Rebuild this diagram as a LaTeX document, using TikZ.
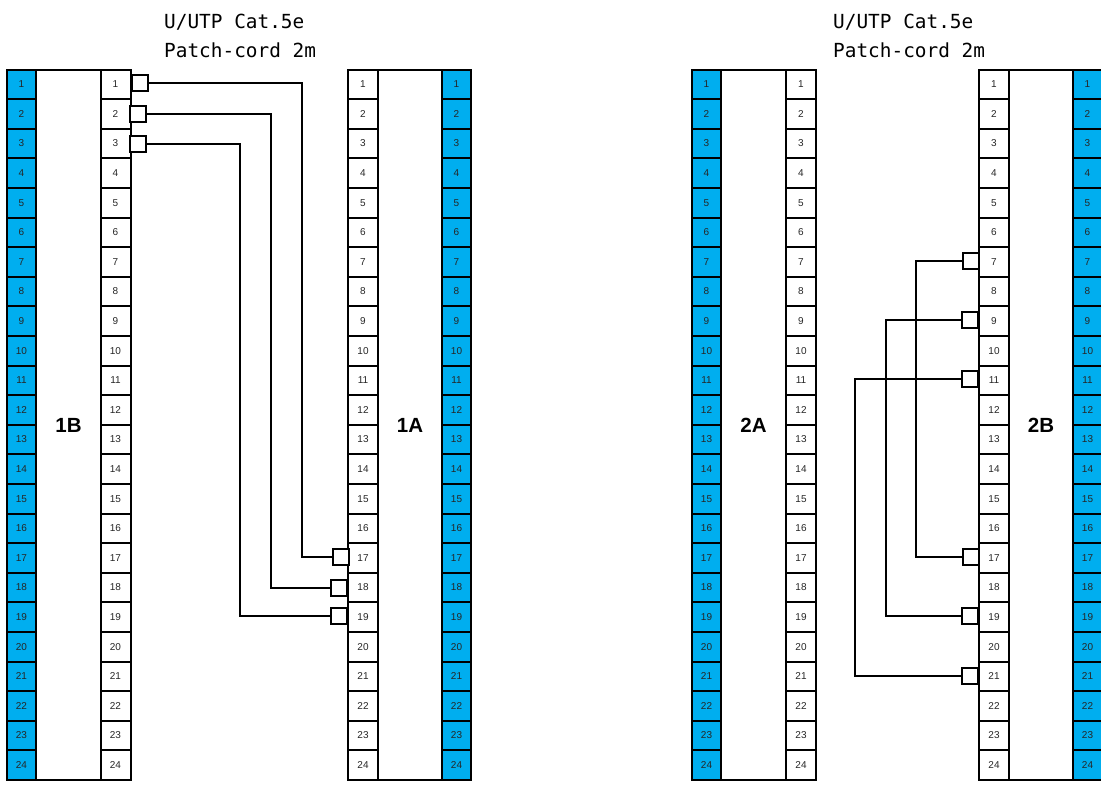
\documentclass[tikz,border=0pt]{standalone}
\usepackage{fontspec}
\setmainfont{Liberation Sans}
\newfontfamily\titlefont{DejaVu Sans Mono}
\definecolor{portblue}{HTML}{00AEEF}
\tikzset{
  cellbase/.style={draw=black,line width=2pt,inner sep=0pt,font=\fontsize{10}{11}\selectfont,text=black!85},
  bluecell/.style={cellbase,fill=portblue,minimum width=29pt},
  whitecell/.style={cellbase,fill=white,minimum width=30pt},
  panelbody/.style={draw=black,line width=2pt,fill=white,minimum height=710pt,inner sep=0pt,font=\bfseries\fontsize{20.5}{22}\selectfont},
  plugbox/.style={draw=black,line width=2pt,fill=white,minimum width=16pt,minimum height=16pt,inner sep=0pt},
  cord/.style={draw=black,line width=2pt},
  titletext/.style={anchor=west,align=left,inner sep=0pt,font=\titlefont\fontsize{19.4}{29}\selectfont,text=black}
}
\begin{document}
\begin{tikzpicture}[x=1pt,y=-1pt]
\useasboundingbox (0,0) rectangle (1101,787);
% bodies
\node[panelbody,minimum width=65pt] (b1B) at (68.5,425) {1B};
\node[panelbody,minimum width=64pt] (b1A) at (410,425) {1A};
\node[panelbody,minimum width=65pt] (b2A) at (753.5,425) {2A};
\node[panelbody,minimum width=64pt] (b2B) at (1041,425) {2B};
% port columns
\foreach \n in {1,...,24}{
  \pgfmathsetmacro{\ytop}{round(69.5+(\n-1)*29.6)}
  \pgfmathsetmacro{\ybot}{round(69.5+\n*29.6)}
  \pgfmathsetmacro{\yy}{(\ytop+\ybot)/2}
  \pgfmathsetmacro{\hh}{\ybot-\ytop}
  \tikzset{rowh/.style={minimum height=\hh pt}}
  \node[bluecell,rowh]  (bB\n) at (21.5,\yy) {\n};
  \node[whitecell,rowh] (wB\n) at (115.5,\yy) {\n};
  \node[whitecell,rowh] (wA\n) at (363,\yy) {\n};
  \node[bluecell,rowh]  (lA\n) at (456.5,\yy) {\n};
  \node[bluecell,rowh]  (cA\n) at (706.5,\yy) {\n};
  \node[whitecell,rowh] (dA\n) at (801,\yy) {\n};
  \node[whitecell,rowh] (eB\n) at (994,\yy) {\n};
  \node[bluecell,rowh]  (fB\n) at (1087.5,\yy) {\n};
}
% titles
\node[titletext] (t1) at (164,36) {U/UTP Cat.5e\\Patch-cord 2m};
\node[titletext] (t2) at (833,36) {U/UTP Cat.5e\\Patch-cord 2m};
% plugs
\node[plugbox] (p1) at (140,83) {};
\node[plugbox] (p2) at (138,114) {};
\node[plugbox] (p3) at (138,144) {};
\node[plugbox] (q1) at (341,557) {};
\node[plugbox] (q2) at (339,588) {};
\node[plugbox] (q3) at (339,616) {};
\node[plugbox] (r1) at (971,261) {};
\node[plugbox] (r2) at (970,320) {};
\node[plugbox] (r3) at (970,379) {};
\node[plugbox] (s1) at (971,557) {};
\node[plugbox] (s2) at (970,616) {};
\node[plugbox] (s3) at (970,676) {};
% routing columns
\coordinate (k1) at (302,0);
\coordinate (k2) at (271,0);
\coordinate (k3) at (240,0);
\coordinate (k4) at (916,0);
\coordinate (k5) at (886,0);
\coordinate (k6) at (855,0);
% connectors
\draw[cord] (p1.east) -- (p1.east -| k1) -- (q1.west -| k1) -- (q1.west);
\draw[cord] (p2.east) -- (p2.east -| k2) -- (q2.west -| k2) -- (q2.west);
\draw[cord] (p3.east) -- (p3.east -| k3) -- (q3.west -| k3) -- (q3.west);
\draw[cord] (r1.west) -- (r1.west -| k4) -- (s1.west -| k4) -- (s1.west);
\draw[cord] (r2.west) -- (r2.west -| k5) -- (s2.west -| k5) -- (s2.west);
\draw[cord] (r3.west) -- (r3.west -| k6) -- (s3.west -| k6) -- (s3.west);
\end{tikzpicture}
\end{document}
